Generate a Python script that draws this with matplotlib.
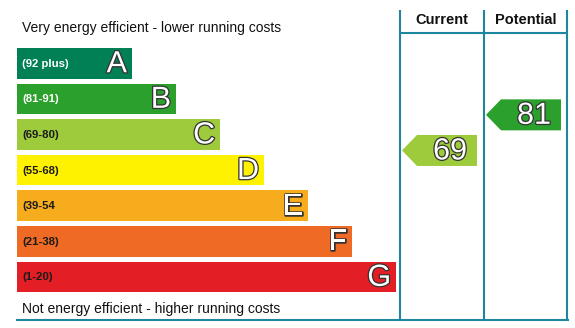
import matplotlib
matplotlib.use("Agg")
import matplotlib.pyplot as plt
from matplotlib.patches import Polygon
import matplotlib.patheffects as pe

plt.rcParams['font.family'] = ['Liberation Sans', 'DejaVu Sans']

bands = ["A", "B", "C", "D", "E", "F", "G"]
ranges = ["(92 plus)", "(81-91)", "(69-80)", "(55-68)", "(39-54", "(21-38)", "(1-20)"]
colors = ["#008054", "#2ca02c", "#9dcb3c", "#fff200", "#f7ac1e", "#ef6a24", "#e31e24"]
range_text_colors = ["white", "white", "#1a1a1a", "#1a1a1a", "#1a1a1a", "#1a1a1a", "#1a1a1a"]
current_value = 69
potential_value = 81
current_band = "C"
potential_band = "B"
headers = ["Current", "Potential"]
top_text = "Very energy efficient - lower running costs"
bottom_text = "Not energy efficient - higher running costs"

W, H = 575, 328
fig = plt.figure(figsize=(W / 100, H / 100), dpi=100)
ax = fig.add_axes([0, 0, 1, 1])
ax.set_xlim(0, W)
ax.set_ylim(H, 0)
ax.axis("off")

x0 = 17
row_top0 = 48
row_step = 35.6
bar_h = 30.5
outline = [pe.withStroke(linewidth=1.8, foreground="#333333")]

for i, (b, r, c, tc) in enumerate(zip(bands, ranges, colors, range_text_colors)):
    width = 115 + 44 * i
    yc = row_top0 + i * row_step + bar_h / 2
    ax.barh(yc, width, height=bar_h, left=x0, color=c, edgecolor="none")
    ax.text(x0 + 5, yc + 0.5, r, ha="left", va="center", fontsize=8.2,
            fontweight="bold", color=tc)
    ax.text(x0 + width - 5, yc + 1, b, ha="right", va="center", fontsize=22,
            color="white", path_effects=outline)

line_c = "#1f86a0"
cols = [400, 484, 567]
for xv in cols:
    ax.plot([xv, xv], [10, 320], color=line_c, lw=1.5, solid_capstyle="butt")
ax.plot([400, 567], [33, 33], color=line_c, lw=1.5)
ax.plot([17, 567.7], [320, 320], color=line_c, lw=1.5)

for k, h in enumerate(headers):
    ax.text((cols[k] + cols[k + 1]) / 2, 20.5, h, ha="center", va="center",
            fontsize=10.5, fontweight="bold", color="#111111")

ax.text(22, 28, top_text, ha="left", va="center", fontsize=10, color="#111111")
ax.text(22, 309, bottom_text, ha="left", va="center", fontsize=10, color="#111111")


def arrow(col_left, value, band):
    i = bands.index(band)
    yc = row_top0 + i * row_step + bar_h / 2 + 16
    hh = 15.5
    tip = col_left + 2
    body = col_left + 17
    right = col_left + 77
    poly = Polygon([[tip, yc], [body, yc - hh], [right, yc - hh],
                    [right, yc + hh], [body, yc + hh]], closed=True,
                   facecolor=colors[i], edgecolor="none")
    ax.add_patch(poly)
    ax.text((body + right) / 2 + 3, yc + 1, str(value), ha="center", va="center",
            fontsize=22, color="white", path_effects=outline)


arrow(cols[0], current_value, current_band)
arrow(cols[1], potential_value, potential_band)

fig.savefig("out.png", dpi=100)
